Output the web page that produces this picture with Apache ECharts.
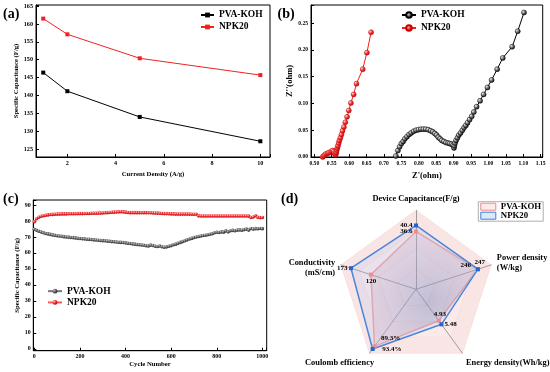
<!DOCTYPE html>
<html><head><meta charset="utf-8">
<script src="https://cdn.jsdelivr.net/npm/echarts@6/dist/echarts.min.js"></script>
<style>html,body{margin:0;padding:0;background:#fff}#c{width:550px;height:372px}</style>
</head><body><div id="c"></div>
<script>
// ---------- DATA ----------
const seriesNames = ['PVA-KOH', 'NPK20'];

// (a) rate capability
const aCurrentDensity = [1, 2, 5, 10];
const aPvaKoh = [146.4, 141.2, 134.0, 127.2];
const aNpk20 = [161.5, 157.1, 150.4, 145.7];

// (b) Nyquist plot
const bPvaRe = [0.734,0.740,0.745,0.750,0.755,0.760,0.766,0.772,0.778,0.785,0.792,0.799,0.806,0.813,0.820,0.827,0.834,0.840,0.846,0.851,0.856,0.861,0.866,0.872,0.878,0.884,0.889,0.894,0.898,0.901,0.902,0.904,0.907,0.911,0.915,0.920,0.925,0.930,0.935,0.940,0.946,0.952,0.958,0.966,0.976,0.986,0.997,1.009,1.025,1.041,1.068,1.084,1.102];
const bPvaIm = [0.002,0.012,0.019,0.025,0.029,0.034,0.038,0.042,0.045,0.048,0.050,0.051,0.052,0.052,0.052,0.051,0.049,0.047,0.044,0.041,0.037,0.034,0.031,0.029,0.027,0.026,0.025,0.024,0.022,0.017,0.021,0.026,0.031,0.036,0.041,0.045,0.050,0.055,0.059,0.064,0.070,0.076,0.084,0.094,0.105,0.117,0.130,0.144,0.164,0.185,0.206,0.235,0.270];
const bNpkRe = [0.524,0.527,0.530,0.534,0.538,0.542,0.546,0.550,0.553,0.556,0.558,0.560,0.561,0.562,0.563,0.5645,0.566,0.568,0.570,0.572,0.575,0.578,0.581,0.585,0.589,0.594,0.599,0.605,0.613,0.621,0.639,0.651,0.663];
const bNpkIm = [0.000,0.002,0.004,0.006,0.007,0.008,0.009,0.011,0.012,0.010,0.007,0.005,0.004,0.006,0.009,0.013,0.017,0.021,0.026,0.031,0.036,0.042,0.049,0.056,0.065,0.075,0.087,0.101,0.117,0.137,0.164,0.195,0.233];

// (c) cycling stability
const cCycles = [0,10,20,30,40,50,60,70,80,90,100,110,120,130,140,150,160,170,180,190,200,210,220,230,240,250,260,270,280,290,300,310,320,330,340,350,360,370,380,390,400,410,420,430,440,450,460,470,480,490,500,510,520,530,540,550,560,570,580,590,600,610,620,630,640,650,660,670,680,690,700,710,720,730,740,750,760,770,780,790,800,810,820,830,840,850,860,870,880,890,900,910,920,930,940,950,960,970,980,990,1000];
const cPvaKoh = [74.8,74.2,73.6,73.1,72.6,72.2,71.9,71.6,71.3,71.0,70.8,70.6,70.4,70.2,70.0,69.9,69.7,69.6,69.4,69.2,69.0,68.9,68.8,68.6,68.5,68.4,68.2,68.1,67.9,67.8,67.7,67.6,67.4,67.3,67.1,67.0,66.8,66.7,66.6,66.5,66.3,66.1,65.9,65.7,65.5,65.3,65.1,65.0,64.8,64.5,64.4,64.9,64.7,64.2,64.0,64.3,63.9,63.6,63.8,64.2,64.6,65.1,65.5,66.0,66.6,67.1,67.6,68.2,68.7,69.1,69.6,70.0,70.3,70.6,70.9,71.1,71.4,71.7,72.0,72.6,72.9,72.8,73.2,73.0,73.8,73.2,73.9,74.1,73.9,74.3,74.4,74.2,74.6,74.9,74.3,75.3,74.9,75.2,75.1,75.3,75.2];
const cNpk20 = [79.5,81.4,82.3,82.9,83.3,83.6,83.8,84.0,84.1,84.2,84.3,84.3,84.4,84.4,84.4,84.5,84.5,84.5,84.5,84.6,84.6,84.6,84.7,84.7,84.7,84.8,84.8,84.8,84.9,84.9,85.0,85.1,85.2,85.3,85.4,85.5,85.6,85.7,85.8,85.7,85.5,85.3,85.2,85.2,85.2,85.2,85.2,85.1,85.2,85.2,85.1,85.1,85.0,84.9,84.9,84.8,84.7,84.6,84.6,84.5,84.4,84.4,84.3,84.3,84.3,84.3,84.3,84.3,84.3,84.2,84.2,84.2,83.2,83.1,83.1,83.1,83.1,83.1,83.1,83.1,83.1,83.1,83.1,83.1,83.1,83.1,83.1,83.1,83.1,83.1,83.1,83.1,83.1,83.1,83.0,82.2,82.5,83.3,82.3,82.1,82.2];

// (d) radar
const dIndicatorNames = ['Device Capacitance(F/g)', 'Conductivity\n(mS/cm)', 'Coulomb efficiency', 'Energy density(Wh/kg)', 'Power density\n(W/kg)'];
const dIndicatorMax = [50, 200, 100, 10, 300];
const dValueSuffix = ['', '', '%', '', ''];
const dPvaKoh = [36.6, 120, 89.3, 4.93, 246];
const dNpk20 = [40.4, 173, 93.4, 5.48, 247];

// ---------- STYLE ----------
const F = 'Liberation Serif';
const BLACK = '#000';
const RED = '#ee2222';
const zip = (xs, ys) => xs.map((x, i) => [x, ys[i]]);
const strip = n => n.split(':')[1];
const ball = (c0, c1, c2) => ({ type: 'radial', x: 0.32, y: 0.32, r: 0.75,
  colorStops: [{ offset: 0, color: c0 }, { offset: 0.45, color: c1 }, { offset: 1, color: c2 }] });

function vAxis(o) {
  const onStep = v => Math.abs(v / o.step - Math.round(v / o.step)) < 1e-6;
  return {
    type: 'value', gridIndex: o.g, min: o.min, max: o.max,
    minInterval: o.step, maxInterval: o.step, splitNumber: 8,
    name: o.name, nameLocation: 'middle', nameGap: o.gap,
    nameTextStyle: { fontFamily: F, fontWeight: 'bold', fontSize: o.nameSize, color: BLACK },
    axisLine: { show: true, onZero: false, lineStyle: { color: BLACK, width: 1 } },
    axisTick: { show: true, inside: true, length: 3, lineStyle: { color: BLACK, width: 1 } },
    splitLine: { show: false },
    axisLabel: {
      margin: o.margin, fontFamily: F, fontWeight: 'bold', fontSize: o.tickSize, color: BLACK,
      formatter: v => onStep(v) ? (o.dec != null ? v.toFixed(o.dec) : String(Math.round(v))) : ''
    }
  };
}
const gridBase = { show: true, borderColor: BLACK, borderWidth: 1, backgroundColor: 'transparent', containLabel: false, outerBoundsMode: 'none' };
const legText = (size, lh) => ({ fontFamily: F, fontWeight: 'bold', fontSize: size, lineHeight: lh, color: BLACK });

// radar axis-name placement (style only): extra blank line above / box width shift
const dNameLayout = [
  { lead: '', box: null },
  { lead: '\n', box: null },
  { lead: '\n', box: 61 },
  { lead: '\n', box: null },
  { lead: '', box: null }
];
// radar value label placement (style only)
const dLabelPlacePva = [
  { position: 'left', distance: 3 },
  { position: 'bottom', distance: 3 },
  { position: 'right', distance: 6, offset: [0, -8] },
  { position: 'top', distance: 3, offset: [1, 0] },
  { position: 'left', distance: 6, offset: [0, -4] }
];
const dLabelPlaceNpk = [
  { position: 'left', distance: 3 },
  { position: 'left', distance: 3 },
  { position: 'right', distance: 9 },
  { position: 'right', distance: 2.5 },
  { position: 'top', distance: 3, offset: [2, 0] }
];
function labelItems(vals, places) {
  return vals.map((target, k) => ({
    name: 'lbl' + k,
    value: vals,
    symbol: 'circle', symbolSize: 1,
    itemStyle: { color: 'rgba(0,0,0,0)', borderWidth: 0 },
    lineStyle: { width: 0, opacity: 0 },
    label: Object.assign({
      show: true, color: BLACK, fontFamily: F, fontWeight: 'bold', fontSize: 7,
      formatter: p => (p.value === target ? p.value + dValueSuffix[k] : '')
    }, places[k])
  }));
}

const chart = echarts.init(document.getElementById('c'), null, { renderer: 'canvas' });
chart.setOption({
  animation: false,
  backgroundColor: '#fff',
  grid: [
    Object.assign({ left: 36, top: 5, width: 234, height: 152 }, gridBase),
    Object.assign({ left: 311, top: 5, width: 231.7, height: 152 }, gridBase),
    Object.assign({ left: 33.3, top: 200, width: 233.4, height: 150.7 }, gridBase)
  ],
  xAxis: [
    vAxis({ g: 0, min: 0.7, max: 10.4, step: 2, name: 'Current Density (A/g)', gap: 14, nameSize: 6.7, tickSize: 6.2, margin: 3 }),
    vAxis({ g: 1, min: 0.4905, max: 1.1557, step: 0.05, dec: 2, name: "Z'(ohm)", gap: 14, nameSize: 8.5, tickSize: 5.6, margin: 4 }),
    vAxis({ g: 2, min: -4.4, max: 1019, step: 200, name: 'Cycle Number', gap: 10, nameSize: 6.7, tickSize: 6, margin: 2.5 })
  ],
  yAxis: [
    vAxis({ g: 0, min: 122.8, max: 165.3, step: 5, name: 'Specific Capacitance (F/g)', gap: 13, nameSize: 6.7, tickSize: 6.2, margin: 3 }),
    vAxis({ g: 1, min: 0, max: 0.284, step: 0.05, dec: 2, name: "Z''(ohm)", gap: 15, nameSize: 8.5, tickSize: 5.6, margin: 3 }),
    vAxis({ g: 2, min: -1.1, max: 93.1, step: 10, name: 'Specific Capacitance (F/g)', gap: 10, nameSize: 6.7, tickSize: 6, margin: 2.5 })
  ],
  radar: {
    center: [416, 289.3], radius: 79, startAngle: 90, shape: 'polygon', splitNumber: 4,
    indicator: dIndicatorNames.map((n, i) => ({ name: n, min: 0, max: dIndicatorMax[i] })),
    nameGap: 6,
    axisName: {
      color: BLACK, fontFamily: F, fontWeight: 'bold', fontSize: 8.4, lineHeight: 10,
      formatter: (name) => {
        const k = dIndicatorNames.indexOf(name);
        const L = dNameLayout[k];
        return L.box ? L.lead + '{w|' + name + '}' : L.lead + name;
      },
      rich: { w: { width: dNameLayout[2].box, align: 'left', fontFamily: F, fontWeight: 'bold', fontSize: 8.4, lineHeight: 10, color: BLACK } }
    },
    axisLine: { lineStyle: { color: '#888', width: 0.8 } },
    axisTick: { show: false }, axisLabel: { show: false },
    splitLine: { lineStyle: { color: '#f1d6d6', width: 0.6 } },
    splitArea: { show: true, areaStyle: { color: ['#fdf3f3', '#fcefef', '#fbeaea', '#fae5e5'] } }
  },
  legend: [
    { data: ['a:PVA-KOH', 'a:NPK20'], formatter: strip, left: 200, top: 9, orient: 'vertical', padding: 0,
      itemWidth: 13, itemHeight: 6, itemGap: 0, selectedMode: false, textStyle: legText(9.5, 12) },
    { data: ['b:PVA-KOH', 'b:NPK20'], formatter: strip, left: 401, top: 8.5, orient: 'vertical', padding: 0,
      itemWidth: 14, itemHeight: 7, itemGap: 0, selectedMode: false, textStyle: legText(9.5, 13) },
    { data: ['c:PVA-KOH', 'c:NPK20'], formatter: strip, left: 47, top: 285.5, orient: 'vertical', padding: 0,
      itemWidth: 14, itemHeight: 6, itemGap: 0, selectedMode: false, textStyle: legText(9.5, 11.3) },
    { data: [
        { name: 'd:PVA-KOH', icon: 'rect', itemStyle: { color: '#fdeaea', borderColor: '#ea8b8b', borderWidth: 1 } },
        { name: 'd:NPK20', icon: 'rect', itemStyle: { color: '#dde9f8', borderColor: '#3f80d8', borderWidth: 1 } }
      ],
      formatter: strip, left: 478.3, top: 201.7, orient: 'vertical', padding: [0.5, 2, 1, 2],
      borderColor: '#999', borderWidth: 0.8, backgroundColor: '#fff',
      itemWidth: 15, itemHeight: 7, itemGap: 0, selectedMode: false, textStyle: legText(8.8, 9) }
  ],
  graphic: [
    { type: 'text', left: 3, top: 7, style: { text: '(a)', font: 'bold 14px "Liberation Serif"', fill: BLACK } },
    { type: 'text', left: 277.5, top: 7, style: { text: '(b)', font: 'bold 14px "Liberation Serif"', fill: BLACK } },
    { type: 'text', left: 3, top: 192.5, style: { text: '(c)', font: 'bold 14px "Liberation Serif"', fill: BLACK } },
    { type: 'text', left: 281, top: 192.5, style: { text: '(d)', font: 'bold 14px "Liberation Serif"', fill: BLACK } }
  ],
  series: [
    { name: 'a:' + seriesNames[0], type: 'line', xAxisIndex: 0, yAxisIndex: 0, data: zip(aCurrentDensity, aPvaKoh),
      symbol: 'rect', symbolSize: 4, itemStyle: { color: BLACK }, lineStyle: { color: BLACK, width: 1 } },
    { name: 'a:' + seriesNames[1], type: 'line', xAxisIndex: 0, yAxisIndex: 0, data: zip(aCurrentDensity, aNpk20),
      symbol: 'rect', symbolSize: 4, itemStyle: { color: RED }, lineStyle: { color: RED, width: 1 } },

    { name: 'b:' + seriesNames[0], type: 'line', xAxisIndex: 1, yAxisIndex: 1, data: zip(bPvaRe, bPvaIm),
      symbol: 'circle', symbolSize: 5, itemStyle: { color: ball('#f4f4f4', '#777777', '#000000'), borderColor: '#000', borderWidth: 0.5 },
      lineStyle: { color: BLACK, width: 1 } },
    { name: 'b:' + seriesNames[1], type: 'line', xAxisIndex: 1, yAxisIndex: 1, data: zip(bNpkRe, bNpkIm),
      symbol: 'circle', symbolSize: 5, itemStyle: { color: ball('#ffe6e6', '#f04040', '#b00000'), borderColor: '#c00', borderWidth: 0.5 },
      lineStyle: { color: RED, width: 1 } },

    { name: 'c:' + seriesNames[0], type: 'line', xAxisIndex: 2, yAxisIndex: 2, data: zip(cCycles, cPvaKoh),
      symbol: 'circle', symbolSize: 3.6, itemStyle: { color: ball('#cccccc', '#666666', '#222222') },
      lineStyle: { color: '#777', width: 0.8 } },
    { name: 'c:' + seriesNames[1], type: 'line', xAxisIndex: 2, yAxisIndex: 2, data: zip(cCycles, cNpk20),
      symbol: 'circle', symbolSize: 3.6, itemStyle: { color: ball('#ffcccc', '#f03030', '#c00000') },
      lineStyle: { color: '#f55', width: 0.8 } },

    { name: 'radar', type: 'radar', radarIndex: 0, silent: true,
      data: [
        { name: 'd:' + seriesNames[0], value: dPvaKoh, symbol: 'rect', symbolSize: 4,
          itemStyle: { color: '#f08c8c' }, lineStyle: { color: '#f0a3a3', width: 1.5 },
          areaStyle: { color: { type: 'radial', x: 0.55, y: 0.6, r: 0.75, colorStops: [
            { offset: 0, color: 'rgba(120,105,150,0.55)' }, { offset: 1, color: 'rgba(236,170,180,0.30)' }] } } },
        { name: 'd:' + seriesNames[1], value: dNpk20, symbol: 'rect', symbolSize: 4,
          itemStyle: { color: '#1f66d6' }, lineStyle: { color: '#3f80d8', width: 1.5 },
          areaStyle: { color: 'rgba(165,195,240,0.30)' } }
      ] },
    { name: 'radarLabels', type: 'radar', radarIndex: 0, silent: true, z: 5,
      data: labelItems(dPvaKoh, dLabelPlacePva).concat(labelItems(dNpk20, dLabelPlaceNpk)) }
  ]
});
</script></body></html>
